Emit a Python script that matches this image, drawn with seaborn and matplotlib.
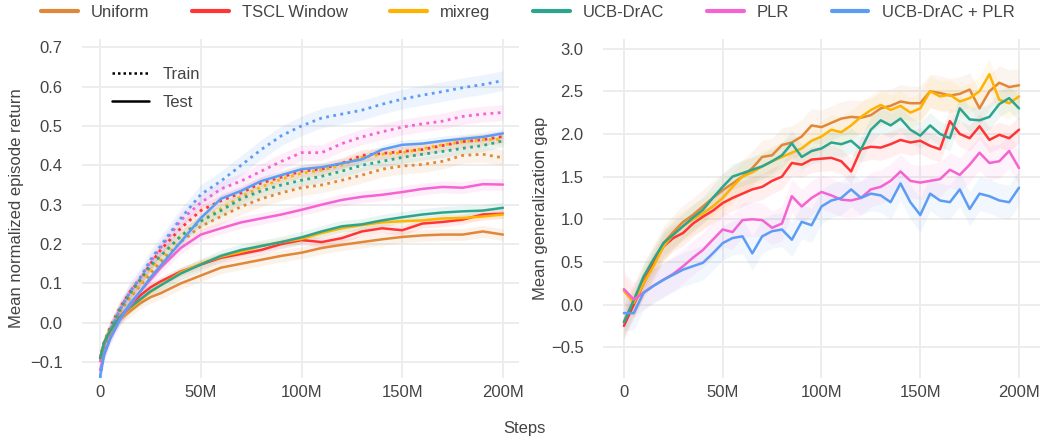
import numpy as np
import pandas as pd
import seaborn as sns
import matplotlib
matplotlib.use("Agg")
import matplotlib.pyplot as plt
from matplotlib.lines import Line2D
from matplotlib.ticker import FixedLocator, FuncFormatter

# ---------------- data ----------------
methods = ["Uniform", "TSCL Window", "mixreg", "UCB-DrAC", "PLR", "UCB-DrAC + PLR"]
colors = ["#E0873A", "#FF3535", "#FFB300", "#2DA58E", "#F562D2", "#5B9CF5"]

# steps (millions) for the return curves
ret_steps = [0, 2, 5, 10, 15, 20, 25, 30, 40, 50, 60, 70, 80, 90, 100,
             110, 120, 130, 140, 150, 160, 170, 180, 190, 200]

train_uniform = [-0.09, -0.05, -0.02, 0.03, 0.065, 0.095, 0.125, 0.155, 0.205, 0.245, 0.27, 0.295, 0.315,
                 0.33, 0.343, 0.35, 0.362, 0.375, 0.39, 0.398, 0.402, 0.41, 0.425, 0.428, 0.419]
train_tscl = [-0.09, -0.05, -0.01, 0.04, 0.08, 0.11, 0.15, 0.185, 0.24, 0.285, 0.31, 0.33, 0.355,
              0.37, 0.385, 0.39, 0.405, 0.425, 0.43, 0.435, 0.44, 0.45, 0.46, 0.465, 0.473]
train_mixreg = [-0.09, -0.05, -0.015, 0.035, 0.07, 0.10, 0.135, 0.165, 0.22, 0.26, 0.29, 0.32, 0.345,
                0.365, 0.38, 0.388, 0.40, 0.42, 0.428, 0.432, 0.442, 0.452, 0.46, 0.465, 0.466]
train_ucb = [-0.09, -0.05, -0.015, 0.035, 0.075, 0.11, 0.145, 0.17, 0.22, 0.258, 0.285, 0.315, 0.335,
             0.35, 0.362, 0.372, 0.385, 0.40, 0.41, 0.42, 0.428, 0.435, 0.443, 0.45, 0.462]
train_plr = [-0.10, -0.06, -0.02, 0.035, 0.08, 0.115, 0.155, 0.19, 0.26, 0.305, 0.34, 0.36, 0.385,
             0.41, 0.432, 0.432, 0.455, 0.472, 0.485, 0.497, 0.505, 0.512, 0.524, 0.53, 0.534]
train_ucbplr = [-0.14, -0.07, -0.02, 0.035, 0.08, 0.115, 0.16, 0.195, 0.265, 0.326, 0.36, 0.40, 0.44,
                0.475, 0.50, 0.52, 0.53, 0.54, 0.555, 0.568, 0.578, 0.587, 0.597, 0.605, 0.615]

test_uniform = [-0.09, -0.05, -0.025, 0.01, 0.03, 0.05, 0.065, 0.075, 0.10, 0.12, 0.14, 0.15, 0.16,
                0.17, 0.178, 0.19, 0.198, 0.205, 0.212, 0.218, 0.222, 0.224, 0.224, 0.232, 0.224]
test_tscl = [-0.09, -0.05, -0.02, 0.015, 0.045, 0.07, 0.09, 0.105, 0.13, 0.148, 0.165, 0.175, 0.185,
             0.20, 0.21, 0.205, 0.215, 0.232, 0.24, 0.235, 0.252, 0.256, 0.262, 0.275, 0.277]
test_mixreg = [-0.09, -0.05, -0.02, 0.012, 0.037, 0.058, 0.078, 0.095, 0.128, 0.15, 0.168, 0.18, 0.195,
               0.205, 0.213, 0.228, 0.24, 0.248, 0.255, 0.258, 0.26, 0.265, 0.266, 0.27, 0.275]
test_ucb = [-0.09, -0.05, -0.02, 0.015, 0.04, 0.06, 0.08, 0.095, 0.125, 0.148, 0.17, 0.185, 0.195,
            0.205, 0.217, 0.232, 0.245, 0.25, 0.26, 0.268, 0.275, 0.28, 0.283, 0.285, 0.292]
test_plr = [-0.12, -0.08, -0.04, 0.01, 0.045, 0.08, 0.11, 0.14, 0.19, 0.224, 0.24, 0.255, 0.265,
            0.275, 0.287, 0.30, 0.312, 0.32, 0.325, 0.332, 0.34, 0.345, 0.343, 0.352, 0.351]
test_ucbplr = [-0.135, -0.08, -0.04, 0.01, 0.05, 0.08, 0.115, 0.145, 0.205, 0.266, 0.315, 0.335, 0.36,
               0.375, 0.39, 0.395, 0.405, 0.415, 0.44, 0.452, 0.455, 0.462, 0.467, 0.472, 0.481]

# steps (millions) for the generalization-gap curves
gap_steps = list(range(0, 201, 5))

gap_uniform = [-0.2, 0.05, 0.29, 0.5, 0.72, 0.85, 0.97, 1.05, 1.15, 1.25, 1.34, 1.42, 1.5, 1.6, 1.73,
               1.75, 1.87, 1.9, 1.97, 2.1, 2.08, 2.13, 2.18, 2.2, 2.19, 2.22, 2.3, 2.33, 2.38, 2.36,
               2.36, 2.5, 2.48, 2.45, 2.47, 2.52, 2.3, 2.5, 2.6, 2.55, 2.57]
gap_tscl = [-0.25, 0.0, 0.25, 0.48, 0.68, 0.78, 0.84, 0.95, 1.03, 1.1, 1.19, 1.25, 1.3, 1.35, 1.38,
            1.45, 1.5, 1.66, 1.64, 1.7, 1.71, 1.72, 1.68, 1.56, 1.82, 1.85, 1.84, 1.88, 1.93, 1.9,
            1.92, 1.86, 1.82, 2.15, 2.0, 1.95, 2.09, 1.93, 1.99, 1.95, 2.05]
gap_mixreg = [0.16, 0.02, 0.25, 0.45, 0.68, 0.82, 0.92, 1.0, 1.07, 1.15, 1.25, 1.38, 1.5, 1.55, 1.62,
              1.68, 1.73, 1.78, 1.83, 1.92, 1.97, 2.05, 2.02, 2.1, 2.2, 2.28, 2.34, 2.28, 2.33, 2.25,
              2.3, 2.5, 2.44, 2.46, 2.38, 2.42, 2.5, 2.7, 2.4, 2.36, 2.44]
gap_ucb = [-0.21, 0.05, 0.33, 0.53, 0.72, 0.82, 0.92, 1.02, 1.11, 1.25, 1.38, 1.5, 1.54, 1.58, 1.62,
           1.68, 1.75, 1.89, 1.73, 1.8, 1.83, 1.9, 1.88, 1.92, 1.82, 2.05, 2.16, 2.1, 2.18, 2.05,
           1.98, 2.1, 2.0, 1.95, 2.3, 2.17, 2.16, 2.2, 2.35, 2.42, 2.3]
gap_plr = [0.18, 0.06, 0.14, 0.22, 0.29, 0.36, 0.45, 0.55, 0.64, 0.76, 0.88, 0.85, 0.99, 1.0, 0.99,
           0.9, 0.95, 1.27, 1.15, 1.25, 1.32, 1.28, 1.23, 1.22, 1.25, 1.35, 1.38, 1.45, 1.56, 1.45,
           1.43, 1.45, 1.47, 1.58, 1.52, 1.64, 1.78, 1.66, 1.68, 1.8, 1.6]
gap_ucbplr = [-0.1, -0.1, 0.14, 0.22, 0.29, 0.35, 0.41, 0.45, 0.49, 0.6, 0.72, 0.78, 0.8, 0.6, 0.8,
              0.86, 0.88, 0.76, 0.97, 0.93, 1.15, 1.22, 1.25, 1.35, 1.25, 1.3, 1.28, 1.2, 1.42, 1.2,
              1.05, 1.3, 1.22, 1.2, 1.35, 1.12, 1.3, 1.27, 1.22, 1.2, 1.37]

# half-widths of the shaded bands, one per method
train_band = [0.02, 0.015, 0.015, 0.015, 0.02, 0.025]
test_band = [0.015, 0.012, 0.01, 0.015, 0.015, 0.012]
gap_band = [0.2, 0.15, 0.18, 0.15, 0.2, 0.2]

train_all = [train_uniform, train_tscl, train_mixreg, train_ucb, train_plr, train_ucbplr]
test_all = [test_uniform, test_tscl, test_mixreg, test_ucb, test_plr, test_ucbplr]
gap_all = [gap_uniform, gap_tscl, gap_mixreg, gap_ucb, gap_plr, gap_ucbplr]

# ---------------- style ----------------
sns.set_theme(style="whitegrid")
plt.rcParams["font.family"] = ["Liberation Sans", "DejaVu Sans"]
TXT = "#444444"
plt.rcParams.update({
    "axes.edgecolor": "white",
    "grid.color": "#ececec",
    "grid.linewidth": 1.3,
    "xtick.color": TXT, "ytick.color": TXT,
    "axes.labelcolor": TXT, "text.color": TXT,
    "xtick.labelsize": 12, "ytick.labelsize": 12,
    "axes.labelsize": 12,
})

fig = plt.figure(figsize=(10.49, 4.41), dpi=100)
ax1 = fig.add_axes([0.0782, 0.143, 0.4166, 0.768])
ax2 = fig.add_axes([0.5748, 0.143, 0.4166, 0.768])

rs = np.array(ret_steps, dtype=float)
gs = np.array(gap_steps, dtype=float)

# left: train (dotted) and test (solid)
for i, m in enumerate(methods):
    c = colors[i]
    tr = np.array(train_all[i]); te = np.array(test_all[i])
    ax1.fill_between(rs, tr - train_band[i], tr + train_band[i], color=c, alpha=0.10, lw=0)
    ax1.fill_between(rs, te - test_band[i], te + test_band[i], color=c, alpha=0.10, lw=0)
for i, m in enumerate(methods):
    sns.lineplot(x=rs, y=train_all[i], ax=ax1, color=colors[i], lw=2.0, linestyle=(0, (1, 1.6)))
for i, m in enumerate(methods):
    sns.lineplot(x=rs, y=test_all[i], ax=ax1, color=colors[i], lw=1.8)

# right: generalization gap
for i, m in enumerate(methods):
    g = np.array(gap_all[i])
    ax2.fill_between(gs, g - gap_band[i], g + gap_band[i], color=colors[i], alpha=0.08, lw=0)
for i, m in enumerate(methods):
    sns.lineplot(x=gs, y=gap_all[i], ax=ax2, color=colors[i], lw=1.8)

def yfmt(v, pos):
    return f"{v:.1f}".replace("-", "\u2212")

def xfmt(v, pos):
    return "0" if v == 0 else f"{int(v)}M"

for ax in (ax1, ax2):
    ax.xaxis.set_major_locator(FixedLocator([0, 50, 100, 150, 200]))
    ax.xaxis.set_major_formatter(FuncFormatter(xfmt))
    ax.yaxis.set_major_formatter(FuncFormatter(yfmt))
    ax.tick_params(axis="x", length=0, pad=5)
    ax.tick_params(axis="y", length=0, pad=14)
    for sp in ax.spines.values():
        sp.set_visible(False)
    ax.set_xlabel("")
    ax.grid(True)

ax1.set_xlim(-9, 208)
ax1.set_ylim(-0.14, 0.72)
ax1.yaxis.set_major_locator(FixedLocator([-0.1, 0, 0.1, 0.2, 0.3, 0.4, 0.5, 0.6, 0.7]))
ax1.set_ylabel("Mean normalized episode return", labelpad=4)

ax2.set_xlim(-10.6, 210.6)
ax2.set_ylim(-0.86, 3.11)
ax2.yaxis.set_major_locator(FixedLocator([-0.5, 0, 0.5, 1.0, 1.5, 2.0, 2.5, 3.0]))
ax2.set_ylabel("Mean generalization gap", labelpad=2)

fig.text(0.5, 0.012, "Steps", ha="center", va="bottom", fontsize=12, color=TXT)

# train/test legend
st_handles = [Line2D([], [], color="black", lw=1.8, linestyle=(0, (1, 1.2))),
              Line2D([], [], color="black", lw=1.8)]
ax1.legend(st_handles, ["Train", "Test"], loc="upper left", bbox_to_anchor=(0.035, 0.962),
           frameon=False, fontsize=12, handlelength=2.2, handletextpad=0.8, labelspacing=0.75)

# method legend
m_handles = [Line2D([], [], color=c, lw=3) for c in colors]
fig.legend(m_handles, methods, loc="center", bbox_to_anchor=(0.503, 0.972), ncol=6,
           frameon=False, fontsize=12, handlelength=2.2, handletextpad=0.8, columnspacing=2.55)

fig.savefig("out.png", dpi=100)
